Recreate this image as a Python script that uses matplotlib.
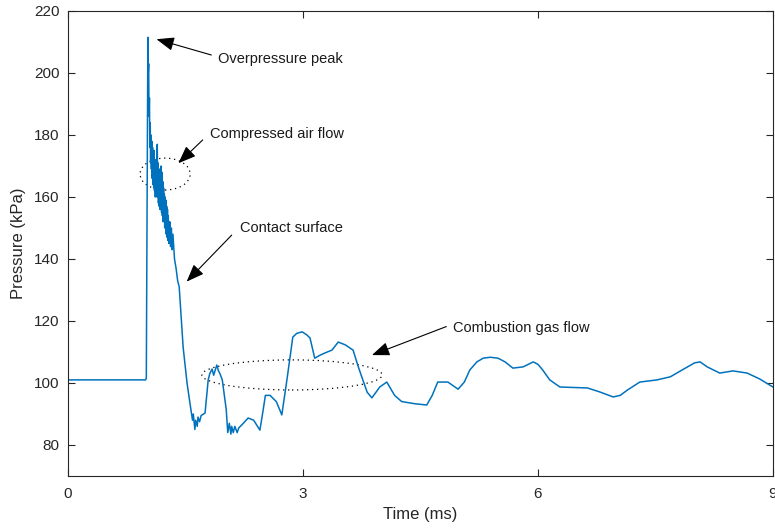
import matplotlib.pyplot as plt
import numpy as np
from matplotlib.patches import Ellipse

# Pressure trace (time in ms, pressure in kPa)
time_ms = [0.00, 0.99, 1.00, 1.02, 1.025, 1.03, 1.035, 1.04, 1.045, 1.05,
           1.055, 1.06, 1.065, 1.07, 1.075, 1.08, 1.085, 1.09, 1.095, 1.10,
           1.105, 1.11, 1.115, 1.12, 1.125, 1.13, 1.135, 1.14, 1.145, 1.15,
           1.155, 1.16, 1.165, 1.17, 1.175, 1.18, 1.185, 1.19, 1.195, 1.20,
           1.205, 1.21, 1.215, 1.22, 1.225, 1.23, 1.235, 1.24, 1.245, 1.25,
           1.255, 1.26, 1.265, 1.27, 1.275, 1.28, 1.29, 1.30, 1.31, 1.32,
           1.33, 1.34, 1.36, 1.38, 1.40, 1.42, 1.47, 1.52, 1.557, 1.59,
           1.60, 1.62, 1.63, 1.65, 1.66, 1.68, 1.70, 1.75, 1.79, 1.81,
           1.84, 1.86, 1.90, 1.92, 1.94, 1.97, 2.02, 2.04, 2.06, 2.08,
           2.09, 2.11, 2.13, 2.16, 2.18, 2.22, 2.30, 2.37, 2.45, 2.49,
           2.52, 2.58, 2.66, 2.73, 2.80, 2.87, 2.92, 2.99, 3.05, 3.09,
           3.15, 3.22, 3.31, 3.37, 3.45, 3.54, 3.64, 3.70, 3.75, 3.82,
           3.88, 3.98, 4.07, 4.17, 4.26, 4.43, 4.58, 4.65, 4.72, 4.85,
           4.98, 5.06, 5.13, 5.22, 5.30, 5.39, 5.49, 5.58, 5.68, 5.81,
           5.94, 6.00, 6.06, 6.15, 6.28, 6.63, 6.79, 6.96, 7.05, 7.14,
           7.30, 7.52, 7.69, 7.84, 8.00, 8.07, 8.16, 8.32, 8.49, 8.67,
           8.83, 9.00]
pressure_kpa = [101.0, 101.0, 101.5, 211.5, 200.0, 203.0, 186.0, 192.0, 176.0, 184.0,
                171.0, 180.0, 169.0, 178.0, 166.0, 176.0, 164.0, 173.0, 163.0, 175.0,
                162.0, 172.0, 160.0, 170.0, 161.0, 172.0, 160.0, 177.0, 161.0, 171.0,
                158.0, 168.0, 157.0, 169.0, 156.0, 167.0, 158.0, 170.0, 155.0, 168.0,
                154.0, 165.0, 152.0, 163.0, 153.0, 161.0, 150.0, 160.0, 151.0, 159.0,
                148.0, 157.0, 147.0, 156.0, 146.0, 154.0, 145.0, 152.0, 144.0, 150.0,
                143.0, 148.0, 140.0, 137.0, 133.0, 131.0, 111.6, 100.0, 93.5, 88.0,
                90.0, 85.0, 88.0, 86.0, 89.0, 87.5, 89.5, 90.3, 101.0, 103.0,
                104.5, 102.5, 105.8, 104.0, 103.0, 101.0, 91.5, 84.0, 87.0, 83.5,
                86.0, 84.0, 86.0, 84.0, 85.5, 86.5, 88.7, 88.0, 84.8, 91.0,
                96.0, 96.0, 94.0, 89.7, 101.9, 114.8, 116.0, 116.5, 115.5, 114.5,
                108.0, 109.0, 110.0, 110.6, 113.2, 112.3, 110.6, 105.7, 102.0, 97.0,
                95.2, 98.7, 100.3, 96.0, 94.0, 93.3, 92.9, 96.0, 100.3, 100.3,
                98.0, 100.3, 104.2, 106.8, 108.0, 108.3, 108.0, 106.8, 104.8, 105.2,
                106.8, 106.0, 104.2, 101.0, 98.7, 98.4, 97.1, 95.5, 96.0, 97.7,
                100.3, 101.0, 102.0, 104.2, 106.5, 106.8, 105.2, 103.2, 103.9, 103.2,
                101.3, 98.7]

# annotations: label, text position, arrow tail, arrow head
labels = ["Overpressure peak", "Compressed air flow", "Contact surface", "Combustion gas flow"]
text_pos = [(1.92, 204.6), (1.81, 180.3), (2.19, 149.9), (4.92, 117.7)]
arrow_tail = [(1.83, 205.8), (1.72, 178.4), (2.09, 147.7), (4.83, 118.2)]
arrow_head = [(1.13, 210.9), (1.41, 170.9), (1.515, 132.7), (3.88, 109.0)]

# dotted ellipses: centre, width, height
ellipse_centre = [(1.24, 167.4), (2.86, 102.6)]
ellipse_width = [0.64, 2.30]
ellipse_height = [10.3, 9.7]

plt.rcParams['font.family'] = ['Liberation Sans', 'DejaVu Sans']
edge = '#262626'

fig = plt.figure(figsize=(7.75, 5.31), dpi=100)
ax = fig.add_axes([0.0877, 0.1036, 0.9097, 0.8757])

ax.plot(time_ms, pressure_kpa, color='#0072BD', linewidth=1.1)

for c, w, h in zip(ellipse_centre, ellipse_width, ellipse_height):
    ax.add_patch(Ellipse(c, w, h, fill=False, edgecolor='black',
                         linestyle=(0, (1, 3)), linewidth=0.9))

for lab, tp, tail, head in zip(labels, text_pos, arrow_tail, arrow_head):
    ax.text(tp[0], tp[1], lab, fontsize=10.5, color='#1a1a1a', ha='left', va='center')
    ax.annotate('', xy=head, xytext=tail,
                arrowprops=dict(arrowstyle='-|>,head_length=0.9,head_width=0.35',
                                color='black', lw=0.8, mutation_scale=12,
                                shrinkA=0, shrinkB=0))

ax.set_xlim(0, 9)
ax.set_ylim(70, 220)
ax.set_xticks([0, 3, 6, 9])
ax.set_yticks(np.arange(80, 221, 20))
ax.tick_params(direction='in', top=True, right=True, length=5, width=0.8,
               colors=edge, labelsize=11, pad=8)
ax.tick_params(axis='y', pad=6)
for s in ax.spines.values():
    s.set_color(edge)
    s.set_linewidth(0.8)

ax.set_xlabel('Time (ms)', fontsize=12, color=edge, labelpad=4)
ax.set_ylabel('Pressure (kPa)', fontsize=12, color=edge, labelpad=6)

fig.savefig('out.png', dpi=100)
